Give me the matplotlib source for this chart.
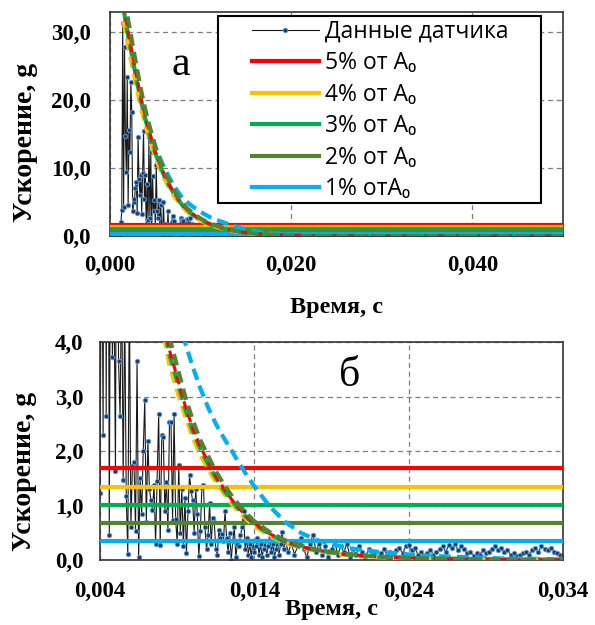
import numpy as np
import matplotlib
matplotlib.use("Agg")
import matplotlib.pyplot as plt
from matplotlib.font_manager import FontProperties
from matplotlib.patches import Rectangle

# --- sensor record: 0.1 ms samples up to 16 ms, then 0.2 ms samples ---
head_g = [
    0, 0, 0, 0, 0, 0, 0, 0, 0, 0, 0, 0,
    2.0, 3.8, 31.3, 4.3, 27.8, 14.7, 9.4, 23.4, 4.5, 15.6,
    12.4, 22.7, 18.3, 3.7, 5.0, 5.4, 7.0, 8.0, 3.4, 14.6,
    8.4, 6.0, 9.0, 3.3, 9.2, 15.5, 5.4, 9.0,
    1.23, 7.7, 2.29, 14.6, 2.65, 12.4, 0.45, 8.8, 3.72, 5.3,
    1.63, 10.5, 3.65, 2.64, 5.3, 1.47, 4.6, 1.17, 0.11, 5.0,
    0.6, 1.73, 1.80, 0.54, 3.66, 0.05, 1.5, 0.84, 2.0, 2.94,
    0.7, 2.18, 1.3, 1.1, 0.92, 1.38, 0.3, 1.45, 2.67, 0.27,
    2.29, 2.26, 0.9, 1.44, 0.55, 2.53, 2.53, 0.74, 2.68, 0.75,
    0.3, 1.75, 0.5, 1.3, 0.25, 1.14, 0.13, 0.9, 1.56, 1.26,
    1.1, 0.5, 1.3, 0.85, 0.07, 0.54, 1.32, 1.38, 0.6, 0.2,
    0.45, 1.04, 0.3, 0.77, 0.7, 0.2, 0.1, 0.55, 0.4, 0.48,
    0.35, 0.9, 0.4, 0.15, 0.5, 0.0, 0.35, 0.6, 0.05, 0.3,
    0.25, 0.45, 0.6, 0.89, 0.2, 0.4, 0.1, 0.3, 0.05, 0.35,
    0.15, 0.25, 0.4, 0.1, 0.3, 0.05, 0.2, 0.35, 0.1, 0.25,
    0.4, 0.15, 0.3, 0.05, 0.2, 0.35, 0.1, 0.3, 0.52, 0.2,
]
tail_g = [
    0.35, 0.15, 0.3, 0.1, 0.25, 0.4, 0.2, 0.05, 0.3, 0.46,
    0.15, 0.3, 0.1, 0.25, 0.05, 0.2, 0.35, 0.1, 0.25, 0.15,
    0.3, 0.05, 0.2, 0.1, 0.25, 0.15, 0.05, 0.2, 0.1, 0.15,
    0.05, 0.12, 0.2, 0.08, 0.15, 0.1, 0.18, 0.22, 0.12, 0.25,
    0.28, 0.18, 0.22, 0.1, 0.15, 0.08, 0.12, 0.18, 0.1, 0.15,
    0.2, 0.25, 0.15, 0.28, 0.22, 0.3, 0.18, 0.25, 0.2, 0.12,
    0.15, 0.08, 0.12, 0.1, 0.18, 0.12, 0.15, 0.2, 0.25, 0.18,
    0.22, 0.15, 0.18, 0.1, 0.12, 0.08, 0.1, 0.12, 0.15, 0.1,
    0.18, 0.22, 0.15, 0.25, 0.2, 0.18, 0.22, 0.15, 0.12, 0.1,
    0.08, 0.1, 0.05, 0.08, 0.12, 0.06, 0.04, 0.08, 0.05, 0.03,
    0.05, 0.02, 0.04, 0.06, 0.03, 0.05, 0.02, 0.04, 0.03, 0.05,
    0.02, 0.04, 0.03, 0.02, 0.05, 0.03, 0.02, 0.04, 0.02, 0.03,
    0.04, 0.02, 0.03, 0.05, 0.02, 0.03, 0.04, 0.02, 0.03, 0.02,
    0.03, 0.02, 0.04, 0.02, 0.03, 0.02, 0.03, 0.04, 0.02, 0.03,
    0.02, 0.03, 0.02, 0.04, 0.02, 0.03, 0.02, 0.02, 0.03, 0.02,
    0.03, 0.02, 0.02, 0.03, 0.02, 0.04, 0.02, 0.03, 0.02, 0.02,
    0.02, 0.03, 0.02, 0.02, 0.03, 0.02, 0.02, 0.03, 0.02, 0.02,
    0.02,
]
t_head = np.arange(len(head_g)) * 0.0001
t_tail = 0.016 + np.arange(len(tail_g)) * 0.0002
t_data = np.concatenate([t_head, t_tail])
acc_data = np.array(head_g + tail_g)

# --- threshold levels, % of A0 ---
level_names = ["5% от A₀", "4% от A₀", "3% от A₀", "2% от A₀", "1% отA₀"]
level_g = [1.68, 1.34, 1.01, 0.67, 0.34]
level_colors = ["#FF0000", "#FFC000", "#00B050", "#548235", "#00B0F0"]

# --- decay envelopes for each level ---
env_t = [0.0015, 0.002, 0.0025, 0.003, 0.0035, 0.004, 0.0045, 0.005, 0.0055,
         0.006, 0.0065, 0.007, 0.0075, 0.008, 0.0085, 0.009, 0.0095, 0.010,
         0.0105, 0.011, 0.0115, 0.012, 0.0125, 0.013, 0.0135, 0.014, 0.015,
         0.016, 0.017, 0.018, 0.020, 0.022, 0.025, 0.030, 0.035, 0.050]
env_5 = [34.0, 30.0, 26.5, 23.0, 19.8, 17.0, 14.6, 12.4, 10.6, 9.0, 7.7, 6.5,
         5.5, 4.6, 3.85, 3.35, 2.85, 2.42, 2.08, 1.80, 1.54, 1.32, 1.12, 0.95,
         0.80, 0.67, 0.48, 0.34, 0.25, 0.18, 0.10, 0.06, 0.03, 0.01, 0.0, 0.0]
env_4 = [31.6, 27.9, 24.6, 21.4, 18.4, 15.8, 13.6, 11.5, 9.9, 8.4, 7.2, 6.0,
         5.1, 4.3, 3.58, 3.1, 2.65, 2.25, 1.93, 1.67, 1.43, 1.23, 1.04, 0.88,
         0.74, 0.62, 0.44, 0.31, 0.23, 0.17, 0.09, 0.05, 0.025, 0.01, 0.0, 0.0]
env_3 = [33.3, 29.4, 26.0, 22.5, 19.4, 16.7, 14.3, 12.2, 10.4, 8.8, 7.5, 6.4,
         5.4, 4.5, 3.77, 3.28, 2.79, 2.37, 2.04, 1.76, 1.51, 1.29, 1.10, 0.93,
         0.78, 0.66, 0.47, 0.33, 0.24, 0.18, 0.10, 0.06, 0.03, 0.01, 0.0, 0.0]
env_2 = [36.0, 31.8, 28.1, 24.4, 21.0, 18.0, 15.5, 13.1, 11.2, 9.5, 8.2, 6.9,
         5.8, 4.9, 4.08, 3.55, 3.02, 2.57, 2.2, 1.91, 1.63, 1.40, 1.19, 1.01,
         0.85, 0.71, 0.51, 0.36, 0.27, 0.19, 0.11, 0.06, 0.03, 0.01, 0.0, 0.0]
env_1 = [35.0, 31.0, 27.0, 23.5, 20.2, 17.5, 15.2, 13.2, 11.5, 10.0, 8.7, 7.5,
         6.5, 5.6, 5.0, 4.45, 4.0, 3.55, 3.15, 2.8, 2.5, 2.25, 2.02, 1.78,
         1.56, 1.35, 0.98, 0.70, 0.50, 0.37, 0.22, 0.15, 0.08, 0.03, 0.01, 0.0]

# ticks
xticks_a = [0.0, 0.02, 0.04]
xlabels_a = ["0,000", "0,020", "0,040"]
yticks_a = [0, 10, 20, 30]
ylabels_a = ["0,0", "10,0", "20,0", "30,0"]
xticks_b = [0.004, 0.014, 0.024, 0.034]
xlabels_b = ["0,004", "0,014", "0,024", "0,034"]
yticks_b = [0, 1, 2, 3, 4]
ylabels_b = ["0,0", "1,0", "2,0", "3,0", "4,0"]

serif = "Liberation Serif"
dash = (0, (2.8, 1.5))

fig = plt.figure(figsize=(5.95, 6.25), dpi=100)
ax_a = fig.add_axes([0.1849, 0.6224, 0.7613, 0.3589])
ax_b = fig.add_axes([0.1681, 0.104, 0.7782, 0.3488])


def draw(ax, legend_labels):
    ax.plot(t_data, acc_data, color="#1a1a1a", lw=0.8, marker="o", ms=3.2,
            mfc="#203864", mec="#5B9BD5", mew=0.7, zorder=2,
            label="Данные датчика" if legend_labels else "_nolegend_")
    for name, lev, col in zip(level_names, level_g, level_colors):
        ax.axhline(lev, color=col, lw=3.0, zorder=3,
                   label=name if legend_labels else "_nolegend_")
    ax.plot(env_t, env_1, color="#00B0F0", lw=3.0, ls=dash, zorder=4)
    ax.plot(env_t, env_4, color="#FFC000", lw=3.0, ls=dash, zorder=4)
    ax.plot(env_t, env_3, color="#00B050", lw=3.0, ls=dash, zorder=4)
    ax.plot(env_t, env_5, color="#FF0000", lw=2.2, ls=dash, zorder=4)
    ax.plot(env_t, env_2, color="#548235", lw=3.0, ls=dash, zorder=4)
    ax.grid(True, ls=(0, (4, 3)), color="#7f7f7f", lw=0.9)
    ax.set_axisbelow(True)
    ax.tick_params(length=0)
    for s in ax.spines.values():
        s.set_color("#333333")
        s.set_linewidth(1.2)


draw(ax_a, True)
ax_a.set_xlim(0, 0.05)
ax_a.set_ylim(0, 33)
ax_a.set_xticks(xticks_a, xlabels_a)
ax_a.set_yticks(yticks_a, ylabels_a)
ax_a.tick_params(axis="y", pad=14)
ax_a.tick_params(axis="x", pad=14)
ax_a.text(0.157, 0.762, "а", transform=ax_a.transAxes, fontsize=30,
          family=serif, ha="center", va="center")

# legend box drawn separately so the entries can sit with a wide left margin
ax_a.add_patch(Rectangle((0.2386, 0.147), 0.7135, 0.834, transform=ax_a.transAxes,
                         facecolor="white", edgecolor="black", lw=1.5, zorder=9))
leg = ax_a.legend(loc="upper left", bbox_to_anchor=(0.3137, 0.965),
                  prop=FontProperties(family=["Open Sans", "DejaVu Sans"], size=16.5),
                  frameon=False, handlelength=2.9, handletextpad=0.3,
                  labelspacing=0.33, borderpad=0, borderaxespad=0)
leg.set_zorder(10)

draw(ax_b, False)
ax_b.set_xlim(0.004, 0.034)
ax_b.set_ylim(0, 4)
ax_b.set_xticks(xticks_b, xlabels_b)
ax_b.set_yticks(yticks_b, ylabels_b)
ax_b.tick_params(axis="y", pad=12)
ax_b.tick_params(axis="x", pad=15)
ax_b.text(0.538, 0.844, "б", transform=ax_b.transAxes, fontsize=30,
          family=serif, ha="center", va="center")

for ax in (ax_a, ax_b):
    for lab in ax.get_xticklabels() + ax.get_yticklabels():
        lab.set_family(serif)
        lab.set_fontweight("bold")
        lab.set_fontsize(16.5)
    ax.set_xlabel("Время, с", family=serif, fontweight="bold", fontsize=17.5)
    ax.set_ylabel("Ускорение, g", family=serif, fontweight="bold", fontsize=20)

ax_a.xaxis.set_label_coords(0.5, -0.27)
ax_a.yaxis.set_label_coords(-0.159, 0.415)
ax_b.xaxis.set_label_coords(0.5, -0.18)
ax_b.yaxis.set_label_coords(-0.136, 0.404)

fig.savefig("out.png", dpi=100)
